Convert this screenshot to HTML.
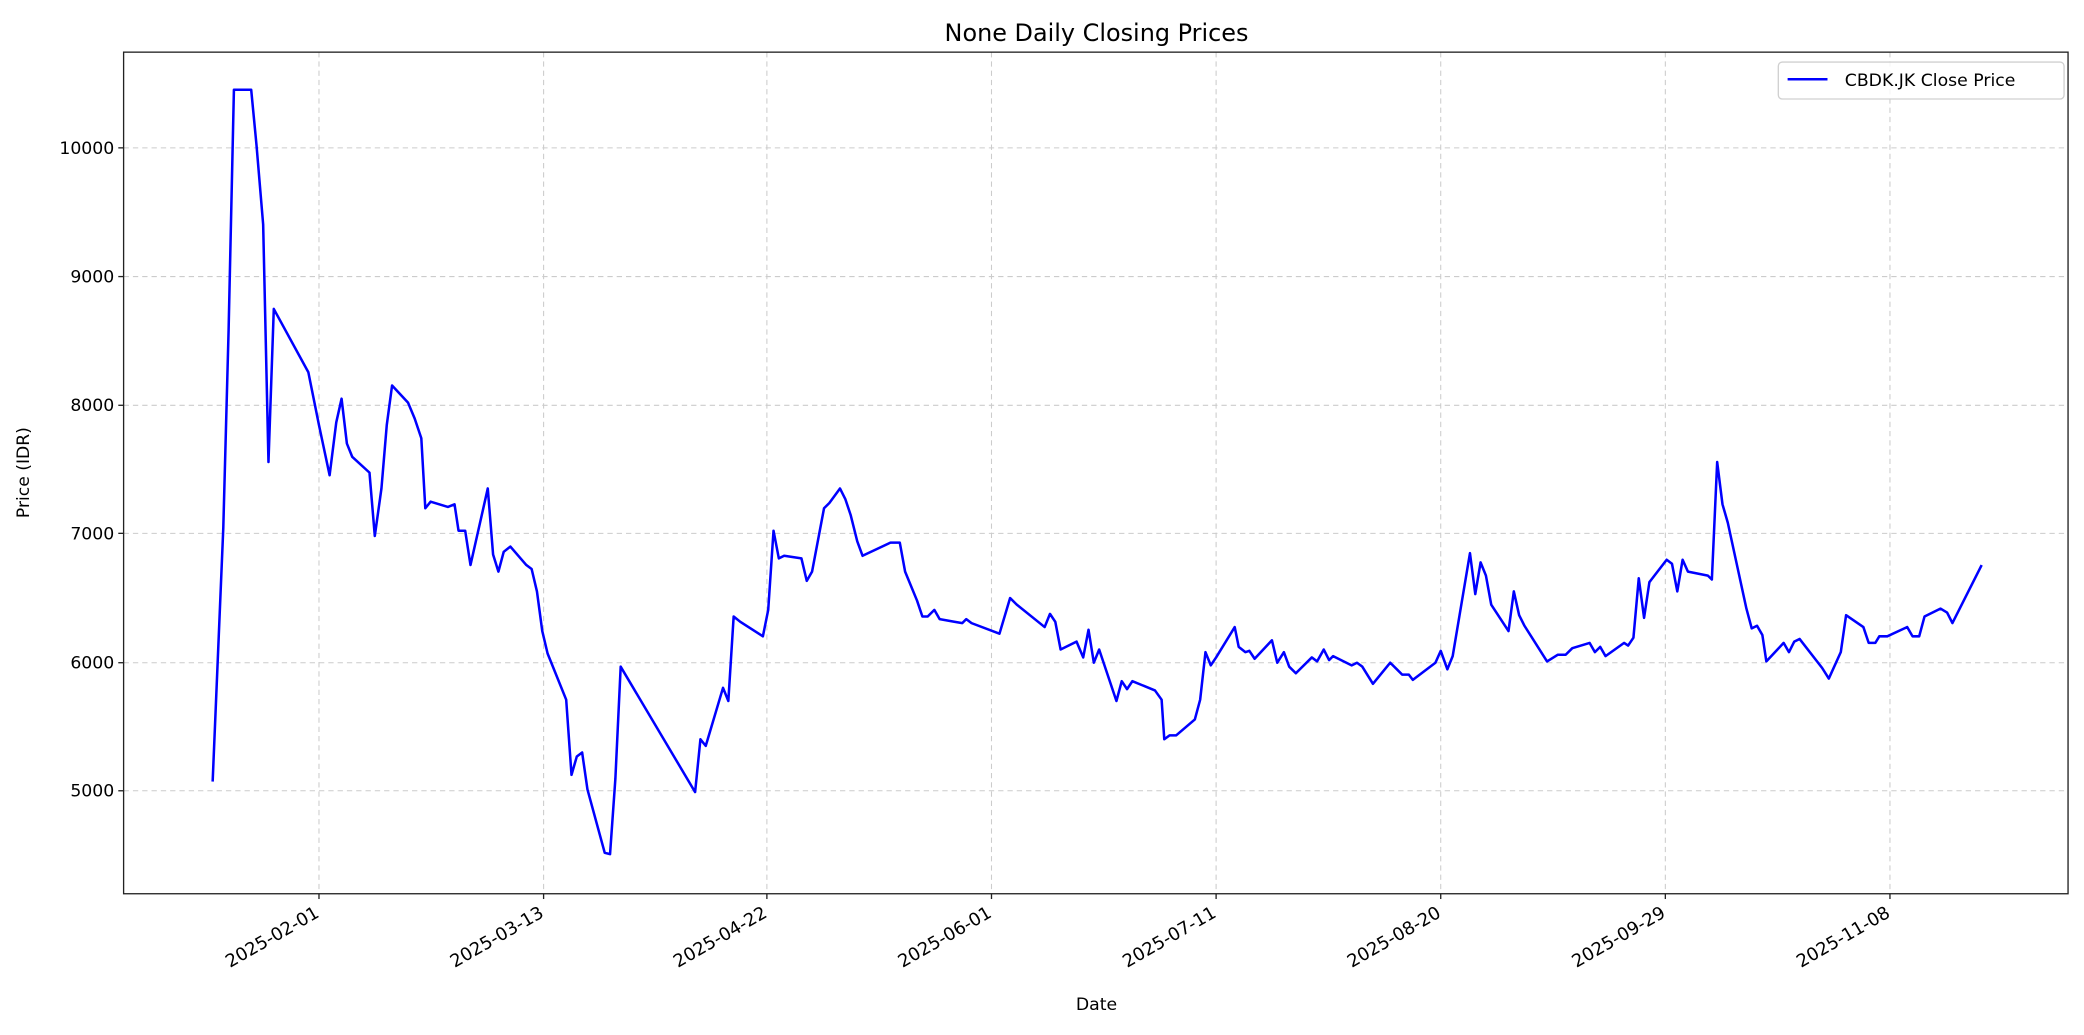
<!DOCTYPE html>
<html><head><meta charset="utf-8"><style>html,body{margin:0;padding:0;background:#fff}svg{display:block}</style></head>
<body>
<svg width="2084" height="1035" viewBox="0 0 1568 784" preserveAspectRatio="none" xmlns="http://www.w3.org/2000/svg" font-family="'DejaVu Sans', 'Liberation Sans', sans-serif">
<rect width="1568" height="784" fill="#fff"/>
<g stroke="#cccccc" stroke-width="0.8" stroke-dasharray="4,3">
<line x1="240" y1="39.5" x2="240" y2="677"/><line x1="409" y1="39.5" x2="409" y2="677"/><line x1="577" y1="39.5" x2="577" y2="677"/><line x1="746" y1="39.5" x2="746" y2="677"/><line x1="915" y1="39.5" x2="915" y2="677"/><line x1="1084" y1="39.5" x2="1084" y2="677"/><line x1="1253" y1="39.5" x2="1253" y2="677"/><line x1="1422" y1="39.5" x2="1422" y2="677"/>
<line x1="93" y1="599" x2="1556" y2="599"/><line x1="93" y1="502" x2="1556" y2="502"/><line x1="93" y1="404" x2="1556" y2="404"/><line x1="93" y1="307" x2="1556" y2="307"/><line x1="93" y1="209.5" x2="1556" y2="209.5"/><line x1="93" y1="112" x2="1556" y2="112"/>
</g>
<polyline fill="none" stroke="#0000ff" stroke-width="1.9" stroke-linejoin="round" points="160,592 168,400 172,250 176,68 189,68 193,110 198,170 202,350 206,234 232,282 240,322 248,360 253,320 257,302 261,336 265,346 278,358 282,406 287,370 291,322 295,292 307,305 312,317 317,332 320,385 324,380 337,384 342,382 345,402 350,402 354,428 367,370 371,420 375,433 379,418 384,414 396,428 400,431 404,448 408,478 412,495 426,530 430,587 434,573 438,570 442,598 455,646 459,647 463,590 467,505 523,600 527,560 531,565 544,521 548,531 552,467 557,471 574,482 578,462 582,402 586,423 590,421 603,423 607,440 611,433 620,385 624,381 632,370 636,378 640,390 645,410 649,421 670,411 677,411 681,433 690,455 694,467 698,467 703,462 707,469 718,471 724,472 727,469 731,472 752,480 760,453 765,458 786,475 790,465 794,471 798,492 810,486 815,498 819,477 823,502 827,492 840,531 844,516 848,522 852,516 869,523 874,530 876,560 880,557 885,557 899,545 903,530 907,494 911,504 915,498 929,475 932,490 937,494 940,493 944,499 957,485 961,502 966,494 970,505 975,510 987,498 991,501 996,492 1000,500 1003,497 1017,504 1021,502 1025,505 1033,518 1046,502 1055,511 1060,511 1063,515 1080,502 1084,493 1089,507 1093,497 1106,419 1110,450 1114,426 1118,436 1122,458 1135,478 1139,448 1143,466 1147,474 1164,501 1172,496 1178,496 1183,491 1196,487 1200,494 1204,490 1208,497 1222,487 1225,489 1229,483 1233,438 1237,468 1241,441 1254,424 1258,427 1262,448 1266,424 1270,433 1285,436 1288,439 1292,350 1296,382 1300,396 1314,461 1318,476 1322,474 1326,481 1329,501 1342,487 1346,494 1350,486 1354,484 1371,506 1376,514 1385,494 1389,466 1402,475 1406,487 1411,487 1414,482 1420,482 1435,475 1439,482 1444,482 1448,467 1460,461 1465,464 1469,472 1478,454 1491,428"/>
<rect x="93" y="39.5" width="1463" height="637.5" fill="none" stroke="#222" stroke-width="1"/>
<g stroke="#222" stroke-width="1">
<line x1="240" y1="677" x2="240" y2="681"/><line x1="409" y1="677" x2="409" y2="681"/><line x1="577" y1="677" x2="577" y2="681"/><line x1="746" y1="677" x2="746" y2="681"/><line x1="915" y1="677" x2="915" y2="681"/><line x1="1084" y1="677" x2="1084" y2="681"/><line x1="1253" y1="677" x2="1253" y2="681"/><line x1="1422" y1="677" x2="1422" y2="681"/>
<line x1="89" y1="599" x2="93" y2="599"/><line x1="89" y1="502" x2="93" y2="502"/><line x1="89" y1="404" x2="93" y2="404"/><line x1="89" y1="307" x2="93" y2="307"/><line x1="89" y1="209.5" x2="93" y2="209.5"/><line x1="89" y1="112" x2="93" y2="112"/>
</g>
<g font-size="13" fill="#000" text-anchor="end">
<text x="86" y="603.5">5000</text><text x="86" y="506.5">6000</text><text x="86" y="408.5">7000</text><text x="86" y="311.5">8000</text><text x="86" y="214">9000</text><text x="86" y="116.5">10000</text>
</g>
<g font-size="13.5" fill="#000" text-anchor="end">
<text transform="translate(241,694) rotate(-30)">2025-02-01</text>
<text transform="translate(410,694) rotate(-30)">2025-03-13</text>
<text transform="translate(578,694) rotate(-30)">2025-04-22</text>
<text transform="translate(747,694) rotate(-30)">2025-06-01</text>
<text transform="translate(916,694) rotate(-30)">2025-07-11</text>
<text transform="translate(1085,694) rotate(-30)">2025-08-20</text>
<text transform="translate(1254,694) rotate(-30)">2025-09-29</text>
<text transform="translate(1423,694) rotate(-30)">2025-11-08</text>
</g>
<text x="825" y="765" font-size="13" text-anchor="middle">Date</text>
<text transform="translate(22,358) rotate(-90)" font-size="13" text-anchor="middle">Price (IDR)</text>
<text x="825" y="31" font-size="18" text-anchor="middle">None Daily Closing Prices</text>
<rect x="1338" y="47" width="215" height="28" rx="3" fill="#fff" fill-opacity="0.8" stroke="#d0d0d0" stroke-width="1"/>
<line x1="1345" y1="60" x2="1375" y2="60" stroke="#0000ff" stroke-width="1.9"/>
<text x="1388" y="65" font-size="13">CBDK.JK Close Price</text>
</svg>
</body></html>
